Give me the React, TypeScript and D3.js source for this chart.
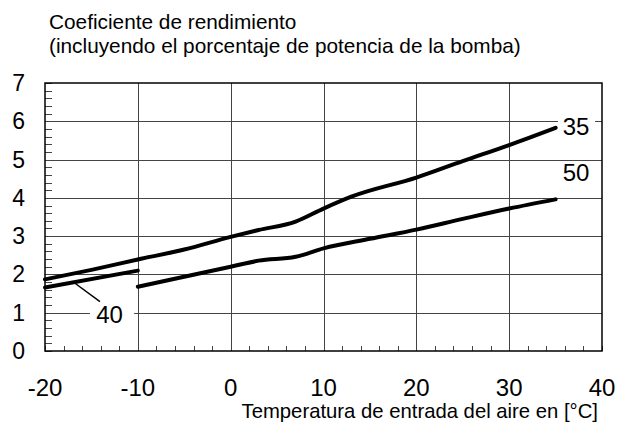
import * as d3 from "d3";
import { useEffect, useRef } from "react";

const temps35 = [-20, -15, -10, -5, 0, 3, 7, 10, 13, 20, 25, 30, 35];
const cop35 = [1.87, 2.12, 2.39, 2.65, 2.98, 3.16, 3.38, 3.72, 4.03, 4.53, 4.96, 5.38, 5.83];
const temps50 = [-10, -5, 0, 3, 7, 10, 15, 20, 25, 30, 35];
const cop50 = [1.68, 1.94, 2.2, 2.36, 2.46, 2.68, 2.93, 3.17, 3.45, 3.72, 3.96];
const temps40 = [-20, -10];
const cop40 = [1.66, 2.1];

const xTicks = [-20, -10, 0, 10, 20, 30, 40];
const yTicks = [0, 1, 2, 3, 4, 5, 6, 7];
const titleLines = ["Coeficiente de rendimiento", "(incluyendo el porcentaje de potencia de la bomba)"];
const xTitle = "Temperatura de entrada del aire en [°C]";

const W = 619;
const H = 423;
const font = "'Liberation Sans', Arial, sans-serif";

export default function App() {
  const ref = useRef<SVGSVGElement>(null);

  useEffect(() => {
    if (!ref.current) return;
    const svg = d3.select(ref.current);
    svg.selectAll("*").remove();

    const margin = { top: 83, right: 17, bottom: 72, left: 45 };
    const width = W - margin.left - margin.right;
    const height = H - margin.top - margin.bottom;

    const x = d3.scaleLinear().domain([-20, 40]).range([0, width]);
    const y = d3.scaleLinear().domain([0, 7]).range([height, 0]);

    const g = svg.append("g").attr("transform", `translate(${margin.left},${margin.top})`);

    // grid
    g.append("g")
      .selectAll("line")
      .data(yTicks.slice(1, -1))
      .enter()
      .append("line")
      .attr("x1", 0)
      .attr("x2", width)
      .attr("y1", d => Math.round(y(d)) + 0.5)
      .attr("y2", d => Math.round(y(d)) + 0.5)
      .attr("stroke", "#444")
      .attr("stroke-width", 1);

    g.append("g")
      .selectAll("line")
      .data(xTicks.slice(1, -1))
      .enter()
      .append("line")
      .attr("x1", d => Math.round(x(d)) + 0.5)
      .attr("x2", d => Math.round(x(d)) + 0.5)
      .attr("y1", 0)
      .attr("y2", height)
      .attr("stroke", "#444")
      .attr("stroke-width", 1);

    // minor ticks
    const yMinor = d3.range(0, 7.001, 0.2);
    g.append("g")
      .selectAll("line")
      .data(yMinor)
      .enter()
      .append("line")
      .attr("x1", 0)
      .attr("x2", 7)
      .attr("y1", d => Math.round(y(d)) + 0.5)
      .attr("y2", d => Math.round(y(d)) + 0.5)
      .attr("stroke", "#444");

    const xMinor = d3.range(-20, 40.001, 2);
    g.append("g")
      .selectAll("line")
      .data(xMinor)
      .enter()
      .append("line")
      .attr("x1", d => Math.round(x(d)) + 0.5)
      .attr("x2", d => Math.round(x(d)) + 0.5)
      .attr("y1", height)
      .attr("y2", height - 5)
      .attr("stroke", "#444");

    // label backgrounds that break the grid
    g.append("rect").attr("x", x(-15.15)).attr("y", y(1) - 3).attr("width", x(-10.4) - x(-15.15)).attr("height", 6).attr("fill", "#fff");
    g.append("rect").attr("x", x(35.26)).attr("y", y(6) - 3).attr("width", x(39.25) - x(35.26)).attr("height", 6).attr("fill", "#fff");

    // frame
    g.append("rect")
      .attr("x", 0)
      .attr("y", 0)
      .attr("width", width)
      .attr("height", height)
      .attr("fill", "none")
      .attr("stroke", "#000")
      .attr("stroke-width", 1.5);

    // curves
    const line = d3.line<[number, number]>()
      .x(d => x(d[0]))
      .y(d => y(d[1]))
      .curve(d3.curveMonotoneX);

    const series = [
      d3.zip(temps35, cop35) as [number, number][],
      d3.zip(temps50, cop50) as [number, number][],
      d3.zip(temps40, cop40) as [number, number][],
    ];
    g.selectAll("path.curve")
      .data(series)
      .enter()
      .append("path")
      .attr("class", "curve")
      .attr("d", d => line(d))
      .attr("fill", "none")
      .attr("stroke", "#000")
      .attr("stroke-width", 4)
      .attr("stroke-linecap", "round");

    // leader for 40
    g.append("line")
      .attr("x1", x(-16.77))
      .attr("y1", y(1.77))
      .attr("x2", x(-14.08))
      .attr("y2", y(1.29))
      .attr("stroke", "#000")
      .attr("stroke-width", 1.5);

    const labels: [string, number, number][] = [
      ["40", -13.05, 0.72],
      ["35", 37.2, 5.64],
      ["50", 37.2, 4.44],
    ];
    g.selectAll("text.lbl")
      .data(labels)
      .enter()
      .append("text")
      .attr("class", "lbl")
      .attr("x", d => x(d[1]))
      .attr("y", d => y(d[2]))
      .attr("text-anchor", "middle")
      .attr("font-family", font)
      .attr("font-size", 24)
      .text(d => d[0]);

    // tick labels
    g.append("g")
      .selectAll("text")
      .data(yTicks)
      .enter()
      .append("text")
      .attr("x", -20)
      .attr("y", d => y(d) + 8)
      .attr("text-anchor", "end")
      .attr("font-family", font)
      .attr("font-size", 23)
      .text(d => d);

    g.append("g")
      .selectAll("text")
      .data(xTicks)
      .enter()
      .append("text")
      .attr("x", d => x(d))
      .attr("y", height + 45)
      .attr("text-anchor", "middle")
      .attr("font-family", font)
      .attr("font-size", 24)
      .text(d => d);

    svg.append("text")
      .attr("x", 598)
      .attr("y", 418)
      .attr("text-anchor", "end")
      .attr("font-family", font)
      .attr("font-size", 20.3)
      .text(xTitle);

    svg.selectAll("text.title")
      .data(titleLines)
      .enter()
      .append("text")
      .attr("class", "title")
      .attr("x", 49)
      .attr("y", (_, i) => 29 + i * 23.5)
      .attr("font-family", font)
      .attr("font-size", 20.8)
      .text(d => d);
  }, []);

  return (
    <svg
      ref={ref}
      width={W}
      height={H}
      style={{ position: "absolute", left: 0, top: 0, background: "#fff" }}
    />
  );
}
